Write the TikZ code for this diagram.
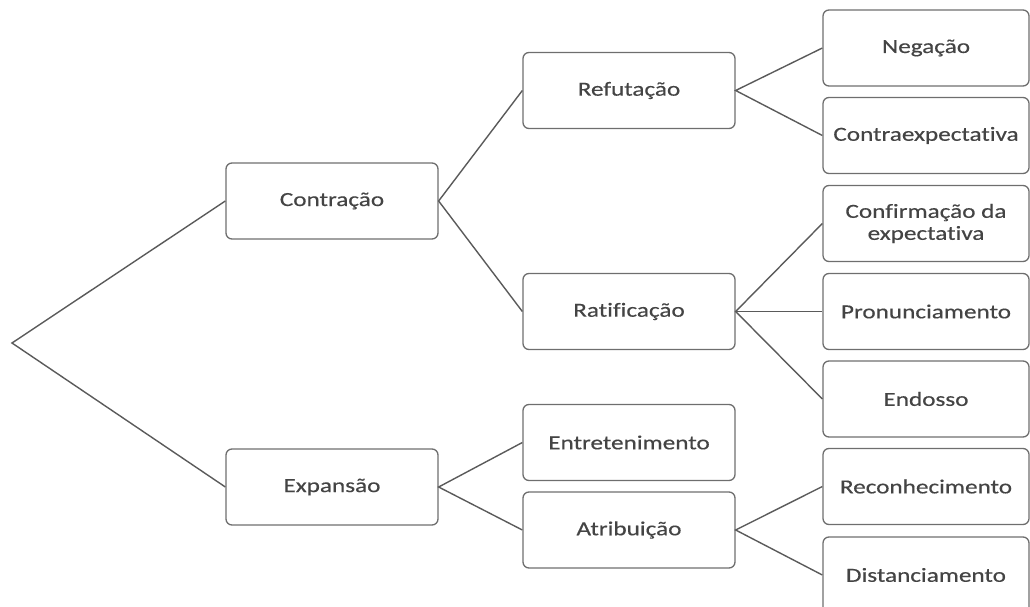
\documentclass[tikz,border=0pt]{standalone}
\usepackage{fontspec}
\setmainfont[FakeStretch=1.26,FakeBold=0.4,Ligatures=NoCommon]{Carlito}
\definecolor{boxgray}{HTML}{6E6E6E}
\definecolor{linegray}{HTML}{5A5A5A}
\definecolor{txtgray}{HTML}{444444}
\begin{document}
\begin{tikzpicture}[x=1pt,y=-1pt,
  box/.style={draw=boxgray, line width=1.3pt, rounded corners=6pt,
    minimum height=76pt, inner sep=0pt, align=center,
    font=\fontsize{20}{22}\selectfont, text=txtgray},
  colA/.style={box, minimum width=212pt},
  colC/.style={box, minimum width=206pt},
  conn/.style={draw=linegray, line width=1.4pt}
]
\useasboundingbox (0,0) rectangle (1030,607);
\clip (0,0) rectangle (1030,607);
\coordinate (root) at (12,343);
% column 1
\node[colA] (contr) at (332,201) {Contração};
\node[colA] (expan) at (332,487) {Expansão};
% column 2
\node[colA] (refut) at (629,90.5) {Refutação};
\node[colA] (ratif) at (629,311.5) {Ratificação};
\node[colA] (entre) at (629,442.5) {Entretenimento};
\node[colA] (atrib) at (629,530) {Atribuição};
% column 3
\node[colC] (neg) at (926,48) {Negação};
\node[colC] (contra) at (926,135.5) {Contraexpectativa};
\node[colC] (conf) at (926,223.5) {Confirmação da\\expectativa};
\node[colC] (pron) at (926,311.5) {Pronunciamento};
\node[colC] (endo) at (926,399) {Endosso};
\node[colC] (recon) at (926,486.5) {Reconhecimento};
\node[colC] (dist) at (926,575) {Distanciamento};
% connectors
\draw[conn] (contr.west) -- (root) -- (expan.west);
\draw[conn] (refut.west) -- (contr.east) -- (ratif.west);
\draw[conn] (entre.west) -- (expan.east) -- (atrib.west);
\draw[conn] (neg.west) -- (refut.east) -- (contra.west);
\draw[conn] (conf.west) -- (ratif.east) -- (endo.west);
\draw[conn] (ratif.east) -- (pron.west);
\draw[conn] (recon.west) -- (atrib.east) -- (dist.west);
\end{tikzpicture}
\end{document}
